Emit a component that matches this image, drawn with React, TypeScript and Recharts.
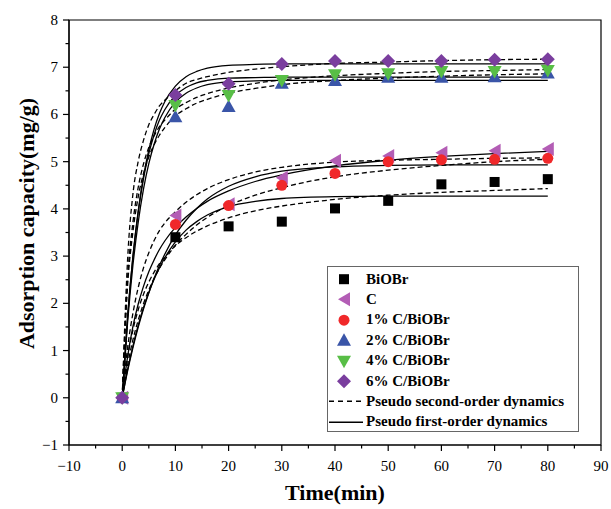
import React from 'react';
import { ComposedChart, Line, Scatter, XAxis, YAxis, ReferenceArea, Legend, Label } from 'recharts';

// Measured time points (min)
const times = [0, 10, 20, 30, 40, 50, 60, 70, 80];
// Measured adsorption capacity (mg/g)
const qBiOBr = [0, 3.40, 3.63, 3.73, 4.01, 4.17, 4.52, 4.57, 4.63];
const qC = [0, 3.86, 4.10, 4.66, 5.02, 5.12, 5.19, 5.23, 5.27];
const q1 = [0, 3.67, 4.07, 4.50, 4.75, 5.00, 5.04, 5.05, 5.07];
const q2 = [0, 5.95, 6.17, 6.66, 6.72, 6.79, 6.79, 6.80, 6.88];
const q4 = [0, 6.19, 6.40, 6.72, 6.84, 6.86, 6.91, 6.91, 6.93];
const q6 = [0, 6.41, 6.65, 7.07, 7.13, 7.13, 7.13, 7.16, 7.17];

// Fitted curves
const fitT = [0, 1, 2, 3, 4, 5, 6, 7, 8, 10, 12, 14, 16, 20, 25, 30, 40, 50, 60, 70, 80];
const pfoBiOBr = [0, 0.59, 1.09, 1.53, 1.91, 2.23, 2.51, 2.75, 2.96, 3.30, 3.55, 3.73, 3.87, 4.05, 4.16, 4.22, 4.26, 4.27, 4.27, 4.27, 4.27];
const psoBiOBr = [0, 0.84, 1.43, 1.86, 2.19, 2.45, 2.66, 2.84, 2.98, 3.22, 3.39, 3.53, 3.64, 3.81, 3.96, 4.06, 4.20, 4.29, 4.35, 4.39, 4.43];
const pfoC = [0, 0.86, 1.50, 1.98, 2.36, 2.67, 2.92, 3.14, 3.32, 3.61, 3.83, 4.01, 4.16, 4.38, 4.58, 4.72, 4.91, 5.03, 5.11, 5.17, 5.22];
const psoC = [0, 1.05, 1.78, 2.33, 2.75, 3.07, 3.33, 3.54, 3.70, 3.94, 4.14, 4.30, 4.43, 4.62, 4.78, 4.88, 4.99, 5.03, 5.05, 5.07, 5.08];
const pfo1 = [0, 0.56, 1.05, 1.49, 1.88, 2.22, 2.53, 2.80, 3.04, 3.45, 3.76, 4.01, 4.21, 4.48, 4.68, 4.80, 4.89, 4.92, 4.93, 4.93, 4.93];
const pso1 = [0, 0.68, 1.22, 1.64, 1.99, 2.28, 2.53, 2.74, 2.92, 3.23, 3.46, 3.66, 3.82, 4.07, 4.29, 4.45, 4.68, 4.82, 4.92, 5.00, 5.05];
const pfo2 = [0, 1.58, 2.79, 3.71, 4.42, 4.96, 5.37, 5.69, 5.93, 6.26, 6.45, 6.56, 6.63, 6.69, 6.71, 6.72, 6.72, 6.72, 6.72, 6.72, 6.72];
const pso2 = [0, 2.35, 3.50, 4.25, 4.75, 5.10, 5.36, 5.56, 5.72, 5.97, 6.12, 6.24, 6.32, 6.45, 6.55, 6.63, 6.72, 6.77, 6.81, 6.84, 6.86];
const pfo4 = [0, 1.70, 2.97, 3.92, 4.64, 5.17, 5.57, 5.88, 6.10, 6.40, 6.57, 6.67, 6.72, 6.77, 6.78, 6.79, 6.79, 6.79, 6.79, 6.79, 6.79];
const pso4 = [0, 2.50, 3.70, 4.45, 4.95, 5.30, 5.55, 5.74, 5.88, 6.11, 6.25, 6.36, 6.44, 6.56, 6.66, 6.73, 6.82, 6.87, 6.91, 6.93, 6.95];
const pfo6 = [0, 1.68, 2.97, 3.95, 4.69, 5.25, 5.69, 6.02, 6.27, 6.60, 6.80, 6.91, 6.98, 7.04, 7.06, 7.07, 7.07, 7.07, 7.07, 7.07, 7.07];
const pso6 = [0, 2.90, 4.30, 5.00, 5.45, 5.78, 6.00, 6.18, 6.30, 6.50, 6.66, 6.74, 6.80, 6.89, 6.96, 7.01, 7.08, 7.11, 7.14, 7.16, 7.17];

const xTicks = [-10, -5, 0, 5, 10, 15, 20, 25, 30, 35, 40, 45, 50, 55, 60, 65, 70, 75, 80, 85, 90];
const yTicks = [-1, -0.5, 0, 0.5, 1, 1.5, 2, 2.5, 3, 3.5, 4, 4.5, 5, 5.5, 6, 6.5, 7, 7.5, 8];

const seriesNames = ['BiOBr', 'C', '1% C/BiOBr', '2% C/BiOBr', '4% C/BiOBr', '6% C/BiOBr'];
const seriesValues = [qBiOBr, qC, q1, q2, q4, q6];
const seriesColors = ['#000000', '#B35DB5', '#F0282A', '#3A55A8', '#58BE46', '#7A3E9E'];
const seriesShapes = ['square', 'left', 'circle', 'up', 'down', 'diamond'];
const fitNames = ['Pseudo second-order dynamics', 'Pseudo first-order dynamics'];

const pfoCurves = [pfoBiOBr, pfoC, pfo1, pfo2, pfo4, pfo6];
const psoCurves = [psoBiOBr, psoC, pso1, pso2, pso4, pso6];

const curveRows = fitT.map((t, i) => {
  const row: any = { t };
  pfoCurves.forEach((c, k) => { row['pfo' + k] = c[i]; });
  psoCurves.forEach((c, k) => { row['pso' + k] = c[i]; });
  return row;
});

const scatterData = seriesValues.map((vals) => times.map((t, i) => ({ t, q: vals[i] })));

const FONT = '"Liberation Serif", "Times New Roman", serif';

function marker(shape: string, color: string, cx: number, cy: number) {
  switch (shape) {
    case 'square':
      return <rect x={cx - 5} y={cy - 5} width={10} height={10} fill={color} />;
    case 'left':
      return <polygon points={`${cx - 6},${cy} ${cx + 6},${cy - 7} ${cx + 6},${cy + 7}`} fill={color} />;
    case 'circle':
      return <circle cx={cx} cy={cy} r={5.5} fill={color} />;
    case 'up':
      return <polygon points={`${cx},${cy - 7} ${cx + 7},${cy + 5.5} ${cx - 7},${cy + 5.5}`} fill={color} />;
    case 'down':
      return <polygon points={`${cx},${cy + 7} ${cx + 7},${cy - 5.5} ${cx - 7},${cy - 5.5}`} fill={color} />;
    default:
      return <polygon points={`${cx},${cy - 7} ${cx + 7},${cy} ${cx},${cy + 7} ${cx - 7},${cy}`} fill={color} />;
  }
}

const fmt = (v: number) => (v < 0 ? '\u2212' + Math.abs(v) : String(v));

const YTick = (p: any) => {
  const v = p.payload.value;
  const major = Number.isInteger(v);
  return (
    <g>
      <line x1={p.x} x2={p.x - (major ? 6 : 3.5)} y1={p.y} y2={p.y} stroke="#000" strokeWidth={1.2} />
      {major && (
        <text x={p.x - 11} y={p.y} dy={5} textAnchor="end" fontFamily={FONT} fontSize={15} fill="#000">
          {fmt(v)}
        </text>
      )}
    </g>
  );
};

const XTick = (p: any) => {
  const v = p.payload.value;
  const major = v % 10 === 0;
  return (
    <g>
      <line x1={p.x} x2={p.x} y1={p.y} y2={p.y + (major ? 6 : 3.5)} stroke="#000" strokeWidth={1.2} />
      {major && (
        <text x={p.x} y={p.y + 26} textAnchor="middle" fontFamily={FONT} fontSize={15} fill="#000">
          {fmt(v)}
        </text>
      )}
    </g>
  );
};

const XLabel = (p: any) => {
  const vb = p.viewBox;
  return (
    <text x={vb.x + vb.width / 2} y={vb.y + 55} textAnchor="middle" fontFamily={FONT} fontWeight="bold" fontSize={22} fill="#000">
      Time(min)
    </text>
  );
};

const YLabel = (p: any) => {
  const vb = p.viewBox;
  const cx = vb.x + 18;
  const cy = vb.y + vb.height / 2 - 9;
  return (
    <text x={cx} y={cy} transform={`rotate(-90 ${cx} ${cy})`} textAnchor="middle" dominantBaseline="central" fontFamily={FONT} fontWeight="bold" fontSize={22} fill="#000">
      Adsorption capacity(mg/g)
    </text>
  );
};

const LegendBox = () => {
  const rowH = 20.4;
  return (
    <div style={{ width: 252, height: 166, boxSizing: 'border-box', border: '1px solid #666', background: '#fff', paddingTop: 2, fontFamily: FONT, fontWeight: 'bold', fontSize: 15, color: '#000' }}>
      {seriesNames.map((n, i) => (
        <div key={n} style={{ height: rowH, display: 'flex', alignItems: 'center' }}>
          <svg width={36} height={rowH} style={{ flex: 'none' }}>
            {marker(seriesShapes[i], seriesColors[i], 16, rowH / 2)}
          </svg>
          <span style={{ marginLeft: 2, whiteSpace: 'nowrap' }}>{n}</span>
        </div>
      ))}
      {fitNames.map((n, i) => (
        <div key={n} style={{ height: rowH, display: 'flex', alignItems: 'center' }}>
          <svg width={36} height={rowH} style={{ flex: 'none' }}>
            <line x1={1} x2={35} y1={rowH / 2} y2={rowH / 2} stroke="#000" strokeWidth={1.4} strokeDasharray={i === 0 ? '5 4' : undefined} />
          </svg>
          <span style={{ marginLeft: 2, whiteSpace: 'nowrap' }}>{n}</span>
        </div>
      ))}
    </div>
  );
};

export default function App() {
  return (
    <div style={{ width: 611, height: 509 }}>
      <style>{'body{margin:0}'}</style>
      <ComposedChart width={611} height={509} data={curveRows} margin={{ top: 20, right: 10, left: 8, bottom: 0 }}>
        <XAxis
          dataKey="t"
          type="number"
          domain={[-10, 90]}
          ticks={xTicks}
          interval={0}
          height={64}
          tickSize={0}
          tickMargin={0}
          tick={<XTick />}
          axisLine={{ stroke: '#000', strokeWidth: 1.2 }}
          allowDataOverflow
        >
          <Label content={<XLabel />} />
        </XAxis>
        <YAxis
          type="number"
          domain={[-1, 8]}
          ticks={yTicks}
          interval={0}
          width={61}
          tickSize={0}
          tickMargin={0}
          tick={<YTick />}
          axisLine={{ stroke: '#000', strokeWidth: 1.2 }}
          allowDataOverflow
        >
          <Label content={<YLabel />} />
        </YAxis>
        <ReferenceArea x1={-10} x2={90} y1={-1} y2={8} fill="none" stroke="#000" strokeWidth={1.2} />
        {seriesNames.map((n, i) => (
          <Scatter
            key={n}
            name={n}
            data={scatterData[i]}
            dataKey="q"
            isAnimationActive={false}
            shape={(p: any) => marker(seriesShapes[i], seriesColors[i], p.cx, p.cy)}
          />
        ))}
        {psoCurves.map((_, k) => (
          <Line key={'pso' + k} dataKey={'pso' + k} type="monotone" stroke="#000" strokeWidth={1.3} strokeDasharray="5 3" dot={false} activeDot={false} isAnimationActive={false} legendType="none" />
        ))}
        {pfoCurves.map((_, k) => (
          <Line key={'pfo' + k} dataKey={'pfo' + k} type="monotone" stroke="#000" strokeWidth={1.3} dot={false} activeDot={false} isAnimationActive={false} legendType="none" />
        ))}
        <Legend
          layout="vertical"
          align="center"
          verticalAlign="middle"
          content={<LegendBox />}
          wrapperStyle={{ position: 'absolute', left: 327, top: 266, width: 252, height: 166 }}
        />
      </ComposedChart>
    </div>
  );
}
